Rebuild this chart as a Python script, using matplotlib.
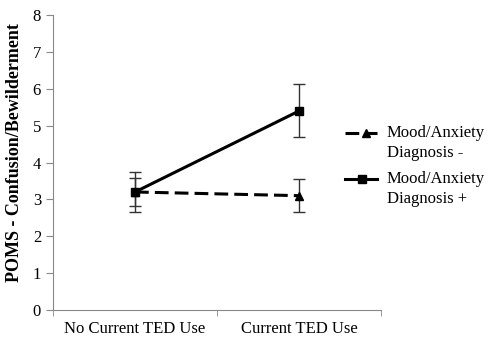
import matplotlib.pyplot as plt
from matplotlib.lines import Line2D
from matplotlib.ticker import FixedLocator

# DATA

groups = ["No Current TED Use", "Current TED Use"]
series_names = ["Mood/Anxiety\nDiagnosis -", "Mood/Anxiety\nDiagnosis +"]

diag_neg = [3.2, 3.1]
diag_neg_err = [0.37, 0.45]

diag_pos = [3.2, 5.4]
diag_pos_err = [0.55, 0.72]

# PLOT

plt.rcParams["font.family"] = ["Liberation Serif", "DejaVu Serif"]

W, H = 490, 351
fig = plt.figure(figsize=(W / 100, H / 100), dpi=100)
ax = fig.add_axes([0.108, 0.117, 0.67, 0.84])

x = list(range(len(groups)))
dash = (0, (4.5, 2))

ax.errorbar(x, diag_neg, yerr=diag_neg_err, color="black", lw=2.2,
            ls=dash, marker="^", ms=5.5,
            ecolor="#333333", elinewidth=1, capsize=4)
ax.errorbar(x, diag_pos, yerr=diag_pos_err, color="black", lw=2.2,
            marker="s", ms=5.5,
            ecolor="#333333", elinewidth=1, capsize=4)

ax.set_xlim(-0.5, 1.5)
ax.set_ylim(0, 8)
ax.set_yticks(range(0, 9))
ax.set_xticks(x)
ax.set_xticklabels(groups, fontsize=12)
ax.xaxis.set_minor_locator(FixedLocator([-0.5, 0.5, 1.5]))
ax.tick_params(axis="x", which="major", length=0, pad=8)
ax.tick_params(axis="x", which="minor", length=4, color="#888888")
ax.tick_params(axis="y", length=5, color="#888888", labelsize=12)

for side in ["top", "right"]:
    ax.spines[side].set_visible(False)
for side in ["left", "bottom"]:
    ax.spines[side].set_color("#888888")

ax.set_ylabel("POMS - Confusion/Bewilderment", fontsize=13, fontweight="bold")
ax.yaxis.set_label_coords(-0.09, 0.535)

# legend, drawn by hand so the key sits on the first text line
legend_rows = [
    (series_names[0], dash, "^", 133, 366),
    (series_names[1], "-", "s", 179, 362),
]
for label, style, mk, ypix, mx in legend_rows:
    yf = 1 - ypix / H
    fig.add_artist(Line2D([345 / W, 377 / W], [yf, yf], color="black",
                          lw=2.2, ls=style, transform=fig.transFigure))
    fig.add_artist(Line2D([mx / W], [yf], color="black", marker=mk, ms=5.5,
                          transform=fig.transFigure))
    fig.text(387 / W, yf + 8 / H, label, fontsize=12, va="top",
             linespacing=1.3)

fig.savefig("out.png", dpi=100)
